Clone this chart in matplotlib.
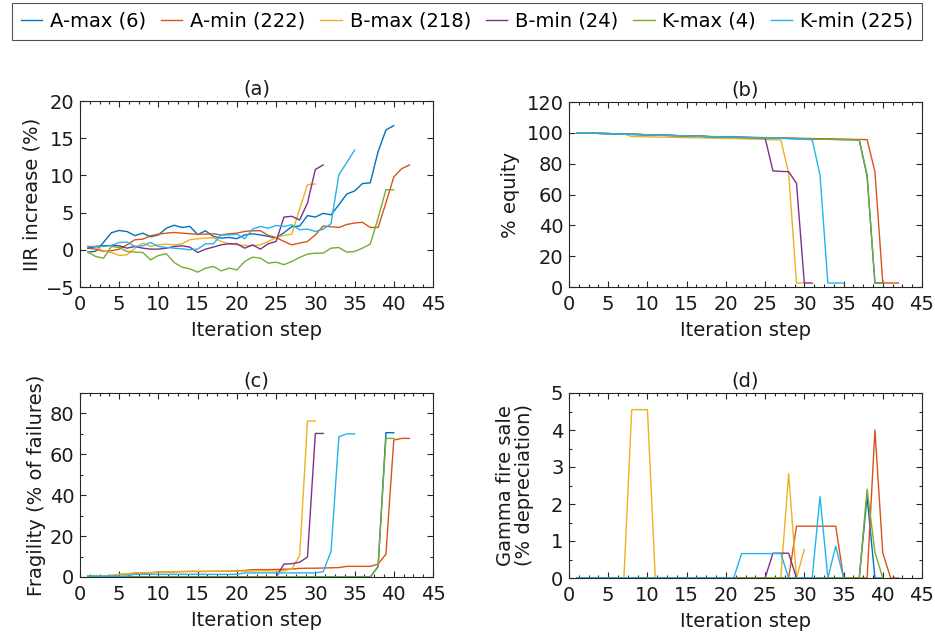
import matplotlib
matplotlib.use('Agg')
import matplotlib.pyplot as plt
from matplotlib.ticker import MultipleLocator
from matplotlib.lines import Line2D

plt.rcParams['font.family'] = ['DejaVu Sans']
plt.rcParams['font.size'] = 14

series_names = ['A-max (6)', 'A-min (222)', 'B-max (218)', 'B-min (24)', 'K-max (4)', 'K-min (225)']
series_colors = ['#0072BD', '#D95319', '#EDB120', '#7E2F8E', '#77AC30', '#22B5EA']

# ---- (a) IIR increase (%)
iir_a_max = [-0.3, -0.2, 1.0, 2.3, 2.6, 2.45, 1.9, 2.24, 1.75, 2.0, 2.9, 3.3, 3.0, 3.15, 2.05, 2.55,
             1.8, 1.57, 1.66, 1.5, 2.0, 2.15, 2.0, 1.8, 1.57, 2.3, 3.1, 3.2, 4.6, 4.4, 4.9, 4.7, 6.05,
             7.5, 7.9, 8.9, 9.0, 13.2, 16.1, 16.7]
iir_a_min = [0.22, 0.09, -0.22, -0.13, 0.09, 0.67, 1.35, 1.43, 1.88, 2.1, 2.24, 2.33, 2.24, 2.15, 2.1,
             2.1, 2.15, 2.0, 2.15, 2.24, 2.47, 2.56, 2.56, 1.93, 1.66, 1.12, 0.67, 0.9, 1.12, 2.0, 3.2,
             3.1, 3.0, 3.4, 3.6, 3.7, 3.0, 3.0, 6.3, 9.8, 10.9, 11.4]
iir_b_max = [0.45, 0.36, -0.13, -0.36, -0.76, -0.67, 0.22, 0.9, 0.45, 0.67, 0.76, 0.67, 0.81, 1.35, 1.48,
             1.57, 1.61, 1.12, 0.81, 0.67, 0.58, 0.54, 0.67, 1.12, 1.66, 1.93, 2.1, 5.5, 8.75, 8.85]
iir_b_min = [0.22, 0.45, 0.54, 0.58, 0.54, 0.22, 0.45, 0.22, 0.09, 0.09, 0.22, 0.45, 0.54, 0.36, -0.36,
             0.09, 0.36, 0.67, 0.81, 0.81, 0.22, 0.67, 0.09, 0.81, 1.12, 4.4, 4.5, 4.0, 6.3, 10.8, 11.4]
iir_k_max = [-0.31, -0.9, -1.12, 0.45, 0.31, -0.22, -0.31, -0.36, -1.35, -0.76, -0.54, -1.7, -2.33, -2.56,
             -3.0, -2.47, -2.24, -2.83, -2.47, -2.7, -1.57, -0.99, -1.12, -1.79, -1.66, -2.0, -1.57,
             -1.03, -0.58, -0.45, -0.45, 0.22, 0.31, -0.31, -0.22, 0.22, 0.76, 4.26, 8.07, 8.07]
iir_k_min = [0.45, 0.45, 0.45, 0.58, 0.99, 1.03, 0.45, 0.54, 0.99, 0.45, 0.31, 0.22, 0.13, 0.0, 0.09,
             0.81, 0.81, 2.0, 2.0, 2.1, 1.48, 2.78, 3.14, 2.9, 3.27, 3.14, 3.36, 2.7, 2.78, 2.47, 2.78,
             3.5, 10.1, 11.7, 13.4]

# ---- (b) % equity
eq_a_max = [100, 99.9, 99.8, 99.6, 99.5, 99.3, 99.2, 99.0, 98.9, 98.7, 98.6, 98.4, 98.3, 98.1, 98.0,
            97.8, 97.7, 97.5, 97.4, 97.2, 97.1, 97.0, 96.9, 96.8, 96.7, 96.6, 96.5, 96.4, 96.3, 96.1,
            96.0, 95.9, 95.8, 95.7, 95.6, 95.5, 95.4, 72.0, 2.6, 2.6]
eq_a_min = [100, 99.9, 99.8, 99.7, 99.5, 99.4, 99.2, 99.1, 98.9, 98.8, 98.6, 98.5, 98.3, 98.2, 98.0,
            97.9, 97.8, 97.6, 97.5, 97.4, 97.3, 97.2, 97.1, 97.0, 96.9, 96.8, 96.7, 96.6, 96.5, 96.4,
            96.3, 96.2, 96.1, 96.0, 95.9, 95.8, 95.7, 95.6, 74.8, 2.6, 2.6, 2.6]
eq_b_max = [100, 99.9, 99.8, 99.7, 99.5, 99.4, 99.3, 97.6, 97.5, 97.4, 97.3, 97.2, 97.1, 97.0, 96.9,
            96.8, 96.7, 96.6, 96.5, 96.4, 96.3, 96.2, 96.0, 95.9, 95.7, 95.5, 95.4, 74.0, 2.6, 2.6]
eq_b_min = [100, 99.9, 99.8, 99.6, 99.5, 99.3, 99.2, 99.0, 98.9, 98.7, 98.6, 98.4, 98.3, 98.1, 98.0,
            97.8, 97.7, 97.5, 97.4, 97.2, 97.1, 97.0, 96.9, 96.8, 96.6, 75.3, 75.0, 74.8, 67.3, 2.6, 2.6]
eq_k_max = [100, 99.9, 99.8, 99.6, 99.5, 99.3, 99.2, 99.0, 98.9, 98.7, 98.6, 98.4, 98.3, 98.1, 98.0,
            97.8, 97.7, 97.5, 97.4, 97.2, 97.1, 97.0, 96.9, 96.8, 96.7, 96.6, 96.5, 96.4, 96.3, 96.1,
            96.0, 95.9, 95.8, 95.7, 95.6, 95.5, 95.4, 72.6, 2.6, 2.6]
eq_k_min = [100, 99.9, 99.8, 99.6, 99.5, 99.3, 99.2, 99.0, 98.9, 98.7, 98.6, 98.4, 98.3, 98.1, 98.0,
            97.8, 97.7, 97.5, 97.4, 97.2, 97.1, 97.0, 96.9, 96.8, 96.7, 96.6, 96.4, 96.2, 96.0, 95.8,
            95.5, 72.6, 2.6, 2.6, 2.6]

# ---- (c) Fragility (% of failures)
frag_a_max = [0, 0, 0, 0, 0, 0, 0, 0, 0, 0, 0, 0, 0, 0, 0, 0, 0, 0, 0, 0, 0, 0, 0, 0, 0, 0, 0, 0, 0, 0,
              0, 0, 0, 0, 0, 0, 0, 5.0, 70.6, 70.6]
frag_a_min = [0.5, 0.5, 0.5, 0.6, 1.3, 1.4, 1.9, 1.9, 2.0, 2.5, 2.5, 2.5, 2.6, 2.7, 2.7, 2.7, 2.8, 2.8,
              2.8, 3.0, 3.2, 3.6, 3.6, 3.6, 3.7, 3.8, 3.9, 4.2, 4.3, 4.3, 4.4, 4.5, 4.6, 5.2, 5.2, 5.2,
              5.2, 6.3, 11.2, 67.0, 67.8, 67.8]
frag_b_max = [0.5, 0.5, 0.6, 0.8, 1.3, 1.5, 2.0, 2.0, 2.2, 2.5, 2.5, 2.6, 2.7, 2.8, 2.8, 2.8, 2.8, 2.8,
              2.9, 2.9, 2.9, 2.9, 3.0, 3.0, 3.0, 3.0, 3.9, 10.4, 76.3, 76.3]
frag_b_min = [0, 0, 0, 0, 0, 0, 0, 0, 0, 0, 0, 0, 0, 0, 0, 0, 0, 0, 0, 0, 0, 0, 0, 0, 0,
              6.3, 6.5, 7.2, 9.8, 70.2, 70.2]
frag_k_max = [0, 0, 0, 0, 0, 0, 0, 0, 0, 0, 0, 0, 0, 0, 0, 0, 0, 0, 0, 0, 0, 0, 0, 0, 0, 0, 0, 0, 0, 0,
              0, 0, 0, 0, 0, 0, 0, 5.2, 67.8, 67.8]
frag_k_min = [0.5, 0.5, 0.5, 0.5, 0.5, 0.5, 1.3, 1.3, 1.3, 1.3, 1.3, 1.3, 1.3, 1.3, 1.3, 1.3, 1.3, 1.3,
              1.3, 1.3, 2.0, 2.0, 2.0, 2.0, 2.0, 2.0, 2.0, 2.0, 2.0, 2.0, 2.6, 12.5, 68.6, 70.0, 70.0]

# ---- (d) Gamma fire sale (% depreciation)
fire_a_max = [0, 0, 0, 0, 0, 0, 0, 0, 0, 0, 0, 0, 0, 0, 0, 0, 0, 0, 0, 0, 0, 0, 0, 0, 0, 0, 0, 0, 0, 0,
              0, 0, 0, 0, 0, 0, 0, 2.2, 0, 0]
fire_a_min = [0, 0, 0, 0, 0, 0, 0, 0, 0, 0, 0, 0, 0, 0, 0, 0, 0, 0, 0, 0, 0, 0, 0, 0, 0, 0, 0, 0,
              1.4, 1.4, 1.4, 1.4, 1.4, 1.4, 0, 0, 0, 0, 4.0, 0.68, 0, 0]
fire_b_max = [0, 0, 0, 0, 0, 0, 0, 4.55, 4.55, 4.55, 0, 0, 0, 0, 0, 0, 0, 0, 0, 0, 0, 0, 0, 0, 0, 0, 0,
              2.82, 0, 0.77]
fire_b_min = [0, 0, 0, 0, 0, 0, 0, 0, 0, 0, 0, 0, 0, 0, 0, 0, 0, 0, 0, 0, 0, 0, 0, 0, 0,
              0.67, 0.67, 0.67, 0, 0, 0]
fire_k_max = [0, 0, 0, 0, 0, 0, 0, 0, 0, 0, 0, 0, 0, 0, 0, 0, 0, 0, 0, 0, 0, 0, 0, 0, 0, 0, 0, 0, 0, 0,
              0, 0, 0, 0, 0, 0, 0, 2.4, 0.7, 0]
fire_k_min = [0, 0, 0, 0, 0, 0, 0, 0, 0, 0, 0, 0, 0, 0, 0, 0, 0, 0, 0, 0, 0,
              0.66, 0.66, 0.66, 0.66, 0.66, 0.66, 0, 0, 0, 0, 2.2, 0, 0.86, 0]

panels = [
    dict(series=[iir_a_max, iir_a_min, iir_b_max, iir_b_min, iir_k_max, iir_k_min],
         title='(a)', ylabel='IIR increase (%)', ylim=(-5, 20), ymajor=5, yminor=None,
         rect=[80, 101, 433, 287], ylabelpad=3),
    dict(series=[eq_a_max, eq_a_min, eq_b_max, eq_b_min, eq_k_max, eq_k_min],
         title='(b)', ylabel='% equity', ylim=(0, 120), ymajor=20, yminor=None,
         rect=[569, 102, 922, 287], ylabelpad=5),
    dict(series=[frag_a_max, frag_a_min, frag_b_max, frag_b_min, frag_k_max, frag_k_min],
         title='(c)', ylabel='Fragility (% of failures)', ylim=(0, 90), ymajor=20, yminor=10,
         rect=[80, 393, 433, 577], ylabelpad=3),
    dict(series=[fire_a_max, fire_a_min, fire_b_max, fire_b_min, fire_k_max, fire_k_min],
         title='(d)', ylabel='Gamma fire sale\n(% depreciation)', ylim=(0, 5), ymajor=1, yminor=0.5,
         rect=[569, 393, 922, 578], ylabelpad=12),
]

W, H = 935, 634
fig = plt.figure(figsize=(W / 100, H / 100), dpi=100)

for p in panels:
    x0, y0, x1, y1 = p['rect']
    ax = fig.add_axes([x0 / W, 1 - y1 / H, (x1 - x0) / W, (y1 - y0) / H])
    for vals, col in zip(p['series'], series_colors):
        ax.plot(range(1, len(vals) + 1), vals, color=col, lw=1.0)
    ax.set_xlim(0, 45)
    ax.set_ylim(*p['ylim'])
    ax.xaxis.set_major_locator(MultipleLocator(5))
    ax.xaxis.set_minor_locator(MultipleLocator(1.25))
    ax.yaxis.set_major_locator(MultipleLocator(p['ymajor']))
    if p['yminor']:
        ax.yaxis.set_minor_locator(MultipleLocator(p['yminor']))
    ax.tick_params(which='both', direction='in', top=True, right=True, width=0.8,
                   color='#262626', labelsize=14, labelcolor='#1a1a1a')
    ax.tick_params(which='major', length=4)
    ax.tick_params(which='minor', length=2.5)
    ax.tick_params(axis='x', which='major', pad=6)
    ax.tick_params(axis='y', which='major', pad=4)
    for s in ax.spines.values():
        s.set_linewidth(0.8)
        s.set_color('#262626')
    ax.set_title(p['title'], fontsize=14, pad=5, color='#1a1a1a')
    ax.set_xlabel('Iteration step', fontsize=14, labelpad=5, color='#1a1a1a')
    ax.set_ylabel(p['ylabel'], fontsize=14, labelpad=p['ylabelpad'], color='#1a1a1a',
                  linespacing=1.05)

handles = [Line2D([], [], color=c, lw=1.0) for c in series_colors]
leg = fig.legend(handles, series_names, loc='upper left',
                 bbox_to_anchor=(12 / W, 1 - 41 / H, (922 - 12) / W, 38 / H),
                 mode='expand', ncol=6, fontsize=14, frameon=True, fancybox=False,
                 edgecolor='#262626', handlelength=1.1, handletextpad=0.4,
                 borderpad=0.45, borderaxespad=0.0)
leg.get_frame().set_linewidth(0.8)

fig.savefig('out.png', dpi=100)
